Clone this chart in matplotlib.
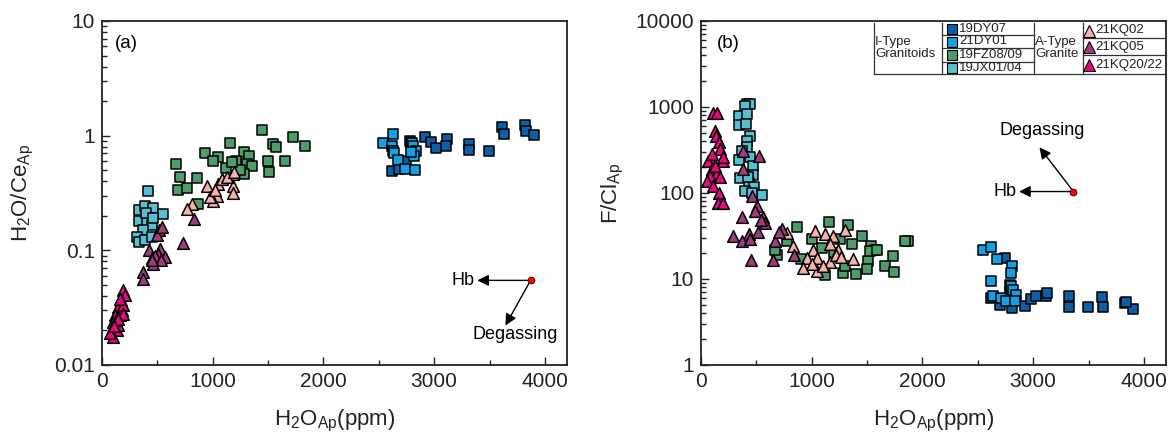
import numpy as np
import matplotlib
matplotlib.use('Agg')
import matplotlib.pyplot as plt
from matplotlib.ticker import MultipleLocator, LogLocator, FuncFormatter, NullFormatter
from matplotlib.lines import Line2D

plt.rcParams['font.family'] = ['Liberation Sans', 'DejaVu Sans']
plt.rcParams['mathtext.fontset'] = 'custom'
plt.rcParams['mathtext.rm'] = 'Liberation Sans'
plt.rcParams['mathtext.it'] = 'Liberation Sans'

# ---- panel (a): H2O vs H2O/Ce ----
dy07_a_x = [2780, 2915, 2976, 3014, 3116, 3105, 3315, 3315, 3493, 3616, 3628, 3818, 3827, 3899, 2617, 2744, 2683, 2790]
dy07_a_y = [0.905, 0.98, 0.875, 0.776, 0.936, 0.819, 0.847, 0.751, 0.741, 1.18, 1.03, 1.25, 1.10, 1.02, 0.49, 0.606, 0.513, 0.86]
dy01_a_x = [2624, 2539, 2617, 2624, 2635, 2674, 2800, 2810, 2834, 2816, 2735, 2825, 2795]
dy01_a_y = [1.03, 0.864, 0.819, 0.741, 0.707, 0.615, 0.857, 0.82, 0.73, 0.67, 0.513, 0.503, 0.716]
fz_a_x = [1441, 1727, 1832, 1546, 1576, 1155, 930, 1044, 1005, 1282, 1330, 1306, 1351, 1209, 1119, 668, 704, 855,
          689, 770, 869, 1495, 1507, 1652, 1285, 1250, 1170]
fz_a_y = [1.12, 0.98, 0.82, 0.85, 0.79, 0.857, 0.70, 0.65, 0.598, 0.716, 0.67, 0.567, 0.548, 0.606, 0.524, 0.567, 0.434, 0.428,
          0.337, 0.348, 0.255, 0.598, 0.486, 0.598, 0.464, 0.50, 0.59]
jx_a_x = [412, 334, 388, 463, 547, 337, 409, 448, 373, 319, 337, 388, 448, 397, 463]
jx_a_y = [0.328, 0.223, 0.246, 0.235, 0.208, 0.182, 0.176, 0.165, 0.149, 0.13, 0.118, 0.124, 0.13, 0.21, 0.19]
kq02_a_x = [951, 1050, 1035, 1005, 975, 1185, 1179, 1179, 809, 770, 1080, 1125, 1191, 1020]
kq02_a_y = [0.367, 0.38, 0.30, 0.272, 0.291, 0.465, 0.367, 0.315, 0.255, 0.23, 0.42, 0.44, 0.48, 0.333]
kq05_a_x = [833, 728, 517, 494, 523, 508, 569, 478, 463, 427, 373, 373, 539, 454, 480, 530, 450]
kq05_a_y = [0.188, 0.116, 0.149, 0.135, 0.103, 0.0936, 0.0875, 0.0819, 0.0766, 0.1, 0.0648, 0.0568, 0.160, 0.085, 0.09, 0.082, 0.083]
kq20_a_x = [187, 208, 169, 147, 178, 162, 117, 102, 87, 132, 96, 72, 147, 126, 193, 160, 190, 140, 110]
kq20_a_y = [0.0455, 0.0406, 0.0367, 0.0321, 0.030, 0.0272, 0.0272, 0.0238, 0.0208, 0.0201, 0.0176, 0.0189, 0.0223, 0.0246,
            0.0333, 0.038, 0.028, 0.025, 0.022]

# ---- panel (b): H2O vs F/Cl ----
dy07_b_x = [2744, 2789, 2623, 2699, 2813, 2924, 2985, 3023, 3114, 3126, 3324, 3324, 3496, 3622, 3631, 3827, 3902, 3836, 2789]
dy07_b_y = [17.6, 8.6, 6.0, 5.0, 4.6, 4.9, 5.9, 6.4, 6.4, 6.8, 6.3, 4.7, 4.7, 6.2, 4.7, 5.3, 4.5, 5.4, 7.0]
dy01_b_x = [2548, 2623, 2678, 2813, 2804, 2623, 2804, 2819, 2843, 2638, 2714, 2753, 2834]
dy01_b_y = [21.6, 23.7, 17.2, 14.1, 11.6, 9.4, 8.2, 7.5, 6.6, 6.3, 6.0, 5.5, 5.5]
fz_b_x = [864, 1158, 1330, 1450, 1360, 1531, 1570, 1510, 1495, 1736, 1661, 1742, 1399, 1279, 1119, 1871, 1841, 689,
          668, 773, 999, 1255, 1089, 1530, 1200, 1300, 900, 1590]
fz_b_y = [40.6, 46, 43, 31.5, 25.2, 24.1, 22, 16.1, 13.1, 18.4, 14.1, 12, 11.3, 11.8, 11, 27.6, 27.6, 18.8,
          22, 27.6, 28.9, 28.9, 23, 21, 20, 14, 17, 22]
jx_b_x = [412, 442, 397, 346, 418, 346, 406, 442, 412, 418, 367, 346, 442, 472, 472, 352, 436, 478, 397, 548, 457, 427]
jx_b_y = [1089, 1089, 1024, 796, 833, 620, 637, 457, 406, 340, 310, 244, 260, 204, 161, 148, 130, 116, 106, 94, 100, 155]
kq02_b_x = [773, 827, 1029, 1119, 1194, 1300, 1164, 1239, 1014, 954, 1050, 923, 1050, 1164, 1375, 1220, 1100, 1000, 1260]
kq02_b_y = [34.6, 24.1, 36, 33, 31.5, 37, 25.2, 22, 22, 17.6, 17.6, 13.5, 12.3, 15.7, 16.9, 19, 14, 15, 18]
kq05_b_x = [382, 526, 382, 457, 502, 487, 562, 578, 367, 292, 436, 517, 367, 442, 448, 647, 728, 668, 839, 700, 540]
kq05_b_y = [310, 271, 190, 92, 71, 62, 52, 45, 52, 31.5, 33, 35, 27.6, 29, 16.5, 16.5, 37.8, 27.6, 18.8, 35, 48]
kq20_b_x = [111, 141, 126, 135, 165, 171, 87, 196, 66, 96, 141, 81, 171, 51, 111, 165, 156, 201, 96, 126, 201]
kq20_b_y = [855, 855, 532, 465, 389, 325, 248, 237, 237, 190, 173, 158, 152, 138, 121, 101, 77, 77, 284, 207, 260]

labels = ['19DY07', '21DY01', '19FZ08/09', '19JX01/04', '21KQ02', '21KQ05', '21KQ20/22']
colors = ['#0b5ea8', '#14a0e2', '#4f9c6b', '#58bfd1', '#f5b1aa', '#a03c7e', '#e4097f']
markers = ['s', 's', 's', 's', '^', '^', '^']

data_a = [(dy07_a_x, dy07_a_y), (dy01_a_x, dy01_a_y), (fz_a_x, fz_a_y), (jx_a_x, jx_a_y),
          (kq02_a_x, kq02_a_y), (kq05_a_x, kq05_a_y), (kq20_a_x, kq20_a_y)]
data_b = [(dy07_b_x, dy07_b_y), (dy01_b_x, dy01_b_y), (fz_b_x, fz_b_y), (jx_b_x, jx_b_y),
          (kq02_b_x, kq02_b_y), (kq05_b_x, kq05_b_y), (kq20_b_x, kq20_b_y)]

W, H = 1176, 441
fig = plt.figure(figsize=(W / 100, H / 100), dpi=100)
ax1 = fig.add_axes([102 / W, 1 - 365 / H, 465 / W, 344 / H])
ax2 = fig.add_axes([701 / W, 1 - 365 / H, 465 / W, 344 / H])


def style_axis(ax, ylim):
    ax.set_yscale('log')
    ax.set_xlim(0, 4200)
    ax.set_ylim(*ylim)
    ax.xaxis.set_major_locator(MultipleLocator(1000))
    ax.xaxis.set_minor_locator(MultipleLocator(500))
    ax.yaxis.set_major_locator(LogLocator(base=10))
    ax.yaxis.set_minor_locator(LogLocator(base=10, subs=np.arange(2, 10)))
    ax.yaxis.set_major_formatter(FuncFormatter(lambda v, p: f'{v:g}'))
    ax.yaxis.set_minor_formatter(NullFormatter())
    ax.tick_params(which='both', direction='in', top=False, right=False, width=1, labelsize=15, colors='#222222')
    ax.tick_params(which='major', length=6, pad=5)
    ax.tick_params(which='minor', length=3.5)
    for s in ax.spines.values():
        s.set_linewidth(1.3)
        s.set_color('#222222')
    ax.set_xlabel('H$_2$O$_{Ap}$(ppm)', fontsize=16, color='#222222', labelpad=12)


for ax, data in [(ax1, data_a), (ax2, data_b)]:
    for (x, y), c, m in zip(data, colors, markers):
        ax.scatter(x, y, marker=m, s=70 if m == '^' else 54, c=c, edgecolors='k', linewidths=1.1, zorder=3)

style_axis(ax1, (0.01, 10))
style_axis(ax2, (1, 10000))
ax1.set_ylabel('H$_2$O/Ce$_{Ap}$', fontsize=16, color='#222222', labelpad=13)
ax2.set_ylabel('F/Cl$_{Ap}$', fontsize=16, color='#222222', labelpad=7)
ax1.text(0.027, 0.935, '(a)', transform=ax1.transAxes, fontsize=13.5, va='center')
ax2.text(0.035, 0.935, '(b)', transform=ax2.transAxes, fontsize=13.5, va='center')

arrow = dict(arrowstyle='-|>', color='k', lw=1, mutation_scale=17, shrinkA=0, shrinkB=0)

# vectors in (a)
ax1.annotate('', xy=(3390, 0.0547), xytext=(3871, 0.0547), arrowprops=arrow)
ax1.annotate('', xy=(3644, 0.0221), xytext=(3871, 0.0547), arrowprops=arrow)
ax1.plot([3871], [0.0547], 'o', color='red', mec='k', ms=5, mew=0.5, zorder=5)
ax1.text(3363, 0.0547, 'Hb', fontsize=13, ha='right', va='center')
ax1.text(3729, 0.0183, 'Degassing', fontsize=13, ha='center', va='center')

# vectors in (b)
ax2.annotate('', xy=(2873, 104), xytext=(3364, 104), arrowprops=arrow)
ax2.annotate('', xy=(3057, 340), xytext=(3364, 104), arrowprops=arrow)
ax2.plot([3364], [104], 'o', color='red', mec='k', ms=5, mew=0.5, zorder=5)
ax2.text(2849, 104, 'Hb', fontsize=13, ha='right', va='center')
ax2.text(3078, 532, 'Degassing', fontsize=13, ha='center', va='center')


# legend table (pixel coordinates, y from top)
def P(x, y):
    return x / W, 1 - y / H


def hline(x0, x1, y):
    fig.add_artist(Line2D([x0 / W, x1 / W], [1 - y / H] * 2, color='#333333', lw=0.9))


def vline(x, y0, y1):
    fig.add_artist(Line2D([x / W] * 2, [1 - y0 / H, 1 - y1 / H], color='#333333', lw=0.9))


x0, x1, x2, x3, x4 = 874, 942, 1034, 1083, 1166
top, bot = 22.5, 74
hline(x0, x4, bot)
for xv in [x0, x1, x2, x3]:
    vline(xv, top, bot)
for yv in [35, 47.5, 61.5]:
    hline(x1, x2, yv)
for yv in [38.3, 55]:
    hline(x3, x4, yv)

fs_leg = 9.5
fig.text(*P(875, 41.5), 'I-Type', fontsize=fs_leg, va='center', color='#222222')
fig.text(*P(875, 54), 'Granitoids', fontsize=fs_leg, va='center', color='#222222')
fig.text(*P(1035, 41.5), 'A-Type', fontsize=fs_leg, va='center', color='#222222')
fig.text(*P(1035, 54), 'Granite', fontsize=fs_leg, va='center', color='#222222')
rows_i = [29, 41.5, 54.5, 68]
for i, yv in enumerate(rows_i):
    fig.add_artist(Line2D([952 / W], [1 - yv / H], marker='s', ms=6.5, mfc=colors[i], mec='k', mew=0.8, ls=''))
    fig.text(*P(959, yv), labels[i], fontsize=fs_leg, va='center', color='#222222')
rows_a = [30.5, 47, 65]
for j, yv in enumerate(rows_a):
    fig.add_artist(Line2D([1089 / W], [1 - yv / H], marker='^', ms=8, mfc=colors[4 + j], mec='k', mew=0.8, ls=''))
    fig.text(*P(1095, yv), labels[4 + j], fontsize=fs_leg, va='center', color='#222222')

fig.savefig('out.png', dpi=100)
